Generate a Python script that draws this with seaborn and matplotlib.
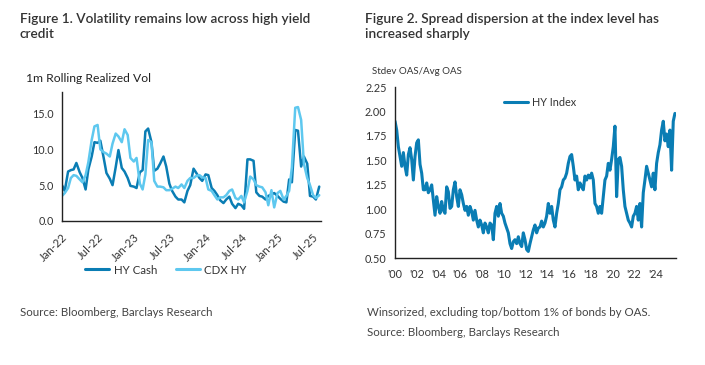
import matplotlib.pyplot as plt
import matplotlib.dates as mdates
import pandas as pd
import seaborn as sns

# Figure 1: 1m rolling realized vol, semi-monthly readings from Jan-22
hy_cash = [5.0, 4.2, 6.9, 7.1, 7.2, 8.1, 6.8, 6.0, 4.4, 7.2,
           9.0, 11.0, 10.9, 11.2, 8.8, 6.7, 5.9, 5.0, 7.5, 9.9,
           7.4, 6.9, 6.0, 4.9, 4.8, 4.6, 6.8, 7.1, 12.5, 12.9,
           11.0, 7.0, 7.3, 8.0, 9.0, 7.6, 5.2, 4.2, 3.4, 3.0,
           3.0, 2.6, 4.2, 5.0, 7.3, 6.7, 6.0, 5.6, 6.5, 6.4,
           4.6, 4.2, 3.6, 2.9, 2.5, 3.0, 3.4, 2.4, 1.8, 2.4,
           2.2, 1.7, 8.6, 8.6, 8.4, 4.0, 3.5, 3.4, 3.0, 3.5,
           3.7, 3.9, 3.5, 3.1, 2.7, 2.6, 5.8, 5.4, 12.7, 12.6,
           7.6, 9.0, 8.0, 3.5, 3.4, 3.0, 4.8]
cdx_hy = [3.5, 3.9, 4.6, 6.0, 6.4, 6.3, 5.8, 5.4, 6.4, 8.2,
          11.3, 13.2, 13.4, 10.0, 9.6, 9.4, 9.0, 10.8, 12.2, 11.8,
          11.0, 12.8, 12.0, 8.8, 8.3, 8.8, 5.2, 4.4, 6.5, 11.3,
          11.0, 5.6, 4.8, 4.8, 4.7, 4.3, 4.3, 4.5, 4.8, 4.6,
          5.1, 4.6, 5.6, 6.0, 6.0, 6.3, 6.4, 6.1, 6.0, 4.4,
          4.2, 3.6, 3.0, 3.3, 3.3, 3.6, 4.2, 4.4, 3.2, 3.0,
          3.5, 2.6, 4.2, 6.2, 5.8, 5.0, 4.8, 4.7, 4.0, 2.2,
          4.3, 1.9, 3.9, 4.2, 3.0, 3.5, 4.2, 7.5, 15.8, 15.9,
          14.1, 8.0, 6.0, 5.0, 3.6, 3.2, 3.6]
vol_dates = pd.date_range("2022-01-01", periods=len(hy_cash), freq="SMS")

# Figure 2: stdev OAS / avg OAS for the HY index, 8-weekly readings from 2000
hy_index = [1.90, 1.81, 1.64, 1.54, 1.44, 1.58, 1.44, 1.35, 1.56, 1.63,
            1.51, 1.30, 1.54, 1.68, 1.71, 1.46, 1.37, 1.20, 1.20, 1.27,
            1.17, 1.20, 1.25, 1.10, 0.94, 1.13, 1.03, 0.96, 1.08, 0.99,
            0.96, 1.23, 1.18, 1.01, 1.03, 1.20, 1.28, 1.13, 1.03, 1.20,
            1.15, 1.06, 0.99, 1.03, 0.94, 1.03, 0.98, 0.89, 0.99, 0.89,
            0.82, 0.89, 0.84, 0.76, 0.86, 0.82, 0.76, 0.86, 0.84, 0.69,
            0.96, 1.03, 0.93, 1.06, 0.96, 0.93, 0.86, 0.81, 0.76, 0.65,
            0.60, 0.67, 0.69, 0.65, 0.72, 0.65, 0.62, 0.76, 0.69, 0.59,
            0.57, 0.65, 0.72, 0.79, 0.84, 0.76, 0.81, 0.82, 0.88, 0.82,
            0.86, 0.93, 1.06, 0.96, 1.03, 0.89, 0.82, 0.96, 1.06, 1.20,
            1.23, 1.30, 1.32, 1.37, 1.47, 1.54, 1.56, 1.44, 1.30, 1.34,
            1.20, 1.27, 1.23, 1.20, 1.34, 1.30, 1.35, 1.32, 1.37, 1.30,
            1.06, 1.03, 0.96, 1.03, 0.96, 1.13, 1.30, 1.34, 1.47, 1.40,
            1.51, 1.64, 1.85, 1.13, 1.51, 1.53, 1.44, 1.20, 1.03, 0.96,
            0.89, 0.86, 0.82, 0.93, 0.96, 1.03, 0.89, 1.06, 0.82, 1.17,
            1.30, 1.44, 1.37, 1.30, 1.23, 1.37, 1.20, 1.47, 1.58, 1.66,
            1.81, 1.90, 1.70, 1.77, 1.64, 1.81, 1.40, 1.90, 1.98]
disp_dates = pd.date_range("2000-01-01", periods=len(hy_index), freq="8W")

dark_blue = "#0a7db4"
light_blue = "#5ec8ef"
text_col = "#333333"

sns.set_style("white")
plt.rcParams["font.family"] = ["Lato", "DejaVu Sans"]

vol = pd.DataFrame({
    "date": list(vol_dates) * 2,
    "vol": hy_cash + cdx_hy,
    "series": ["HY Cash"] * len(hy_cash) + ["CDX HY"] * len(cdx_hy),
})
disp = pd.DataFrame({"date": disp_dates, "ratio": hy_index, "series": "HY Index"})

fig = plt.figure(figsize=(7.05, 3.65), dpi=100)
W, H = 705, 365
ax1 = fig.add_axes([62 / W, 1 - 221 / H, (321 - 62) / W, (221 - 92) / H])
ax2 = fig.add_axes([395 / W, 1 - 258.3 / H, (676 - 395) / W, (258.3 - 87) / H])

sns.lineplot(data=vol, x="date", y="vol", hue="series", ax=ax1,
             palette={"HY Cash": dark_blue, "CDX HY": light_blue},
             linewidth=1.8, legend=False)
sns.lineplot(data=disp, x="date", y="ratio", hue="series", ax=ax2,
             palette={"HY Index": dark_blue}, linewidth=2.2)

for ax in (ax1, ax2):
    sns.despine(ax=ax)
    for s in ("left", "bottom"):
        ax.spines[s].set_color("#222222")
        ax.spines[s].set_linewidth(1.0)
    ax.set_xlabel("")
    ax.set_ylabel("")
    ax.tick_params(axis="y", length=0, labelsize=7.8, colors=text_col, pad=6)
    ax.tick_params(axis="x", length=4, width=0.8, color="#222222",
                   labelsize=7.8, labelcolor=text_col, direction="out")

# figure 1 axes
ax1.set_ylim(0, 18)
ax1.set_yticks([0, 5, 10, 15])
ax1.yaxis.set_major_formatter(plt.FormatStrFormatter("%.1f"))
ax1.set_xlim(pd.Timestamp("2022-01-01"), pd.Timestamp("2025-08-10"))
ax1.xaxis.set_major_locator(mdates.MonthLocator(bymonth=[1, 7]))
ax1.xaxis.set_major_formatter(mdates.DateFormatter("%b-%y"))
ax1.tick_params(axis="x", labelsize=8.2)
for lbl in ax1.get_xticklabels():
    lbl.set_rotation(45)
    lbl.set_ha("right")
    lbl.set_rotation_mode("anchor")

handles = [plt.Line2D([], [], color=dark_blue, lw=2.2),
           plt.Line2D([], [], color=light_blue, lw=2.2)]
fig.legend(handles, ["HY Cash", "CDX HY"], loc="center",
           bbox_to_anchor=(166 / W, 1 - 270 / H), ncol=2, frameon=False,
           fontsize=8.3, handlelength=2.1, handletextpad=0.4, columnspacing=1.6,
           labelcolor=text_col)

# figure 2 axes
ax2.set_ylim(0.5, 2.25)
ax2.set_yticks([0.5, 0.75, 1.0, 1.25, 1.5, 1.75, 2.0, 2.25])
ax2.yaxis.set_major_formatter(plt.FormatStrFormatter("%.2f"))
ax2.set_xlim(pd.Timestamp("2000-01-01"), pd.Timestamp("2025-11-10"))
ax2.xaxis.set_major_locator(mdates.YearLocator(2))
ax2.xaxis.set_major_formatter(mdates.DateFormatter("'%y"))
ax2.legend(loc="center", bbox_to_anchor=((540 - 395) / 281, (102 - 87) / -171.3 + 1),
           frameon=False, fontsize=7.8, handlelength=2.2, handletextpad=0.4,
           labelcolor=text_col)

# titles, subtitles, notes
fig.text(20 / W, 1 - 13 / H, "Figure 1. Volatility remains low across high yield\ncredit",
         fontsize=9.8, fontweight="semibold", color=text_col, va="top", linespacing=1.3)
fig.text(365 / W, 1 - 13 / H, "Figure 2. Spread dispersion at the index level has\nincreased sharply",
         fontsize=9.8, fontweight="semibold", color=text_col, va="top", linespacing=1.3)
fig.text(26 / W, 1 - 78 / H, "1m Rolling Realized Vol", fontsize=8.7,
         color="#222222", va="center")
fig.text(372 / W, 1 - 72 / H, "Stdev OAS/Avg OAS", fontsize=7,
         color=text_col, va="center")
fig.text(20 / W, 1 - 312 / H, "Source: Bloomberg, Barclays Research",
         fontsize=8.3, color="#444444", va="center")
fig.text(367 / W, 1 - 312 / H, "Winsorized, excluding top/bottom 1% of bonds by OAS.",
         fontsize=8.3, color="#444444", va="center")
fig.text(367 / W, 1 - 333 / H, "Source: Bloomberg, Barclays Research",
         fontsize=8.3, color="#444444", va="center")

fig.savefig("out.png", dpi=100)
